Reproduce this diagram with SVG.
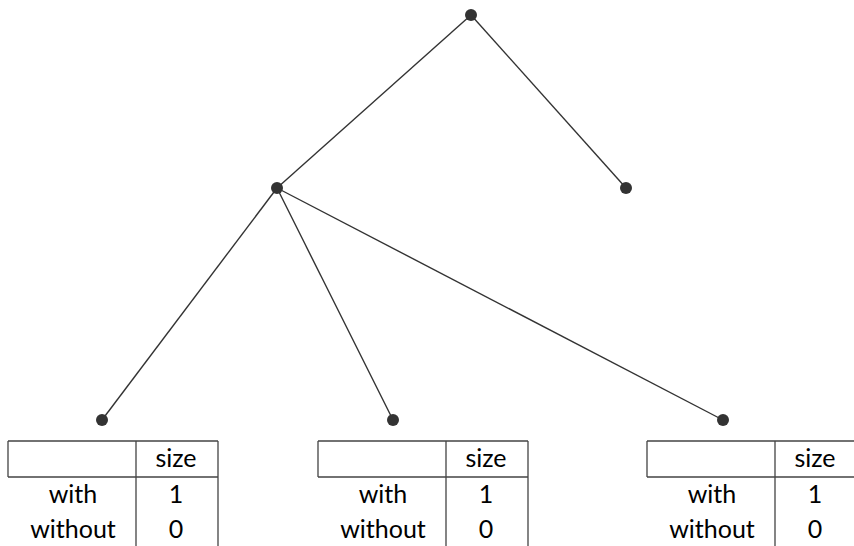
<svg xmlns="http://www.w3.org/2000/svg" width="854" height="546" viewBox="0 0 854 546">
  <style>
    .edge { stroke: #333; stroke-width: 1.4; fill: none; }
    .dot { fill: #333; }
    .grid { stroke: #444; stroke-width: 1.3; fill: none; }
    .cell { font-family: Lato, "Noto Sans", sans-serif; font-size: 25px; fill: #000; text-anchor: middle; }
  </style>
  <rect width="854" height="546" fill="#fff"/>
  <g id="connectors">
    <line class="edge" x1="471" y1="15" x2="277" y2="188"/>
    <line class="edge" x1="471" y1="15" x2="626" y2="188"/>
    <line class="edge" x1="277" y1="188" x2="102" y2="420"/>
    <line class="edge" x1="277" y1="188" x2="393" y2="420"/>
    <line class="edge" x1="277" y1="188" x2="723" y2="420"/>
  </g>
  <g id="root"><circle class="dot" cx="471" cy="15" r="6"/></g>
  <g id="inner"><circle class="dot" cx="277" cy="188" r="6"/></g>
  <g id="right"><circle class="dot" cx="626" cy="188" r="6"/></g>
  <g id="leaf1">
    <circle class="dot" cx="102" cy="420" r="6"/>
    <path class="grid" d="M8,441 H218 M8,477 H218 M8,441 V477 M136,441 V546 M218,441 V546"/>
    <text class="cell" x="176" y="467">size</text>
    <text class="cell" x="73" y="503">with</text>
    <text class="cell" x="176" y="503">1</text>
    <text class="cell" x="73" y="538">without</text>
    <text class="cell" x="176" y="538">0</text>
  </g>
  <g id="leaf2">
    <circle class="dot" cx="393" cy="420" r="6"/>
    <path class="grid" d="M318,441 H528 M318,477 H528 M318,441 V477 M446,441 V546 M528,441 V546"/>
    <text class="cell" x="486" y="467">size</text>
    <text class="cell" x="383" y="503">with</text>
    <text class="cell" x="486" y="503">1</text>
    <text class="cell" x="383" y="538">without</text>
    <text class="cell" x="486" y="538">0</text>
  </g>
  <g id="leaf3">
    <circle class="dot" cx="723" cy="420" r="6"/>
    <path class="grid" d="M647,441 H857 M647,477 H857 M647,441 V477 M775,441 V546 M857,441 V546"/>
    <text class="cell" x="815" y="467">size</text>
    <text class="cell" x="712" y="503">with</text>
    <text class="cell" x="815" y="503">1</text>
    <text class="cell" x="712" y="538">without</text>
    <text class="cell" x="815" y="538">0</text>
  </g>
</svg>
